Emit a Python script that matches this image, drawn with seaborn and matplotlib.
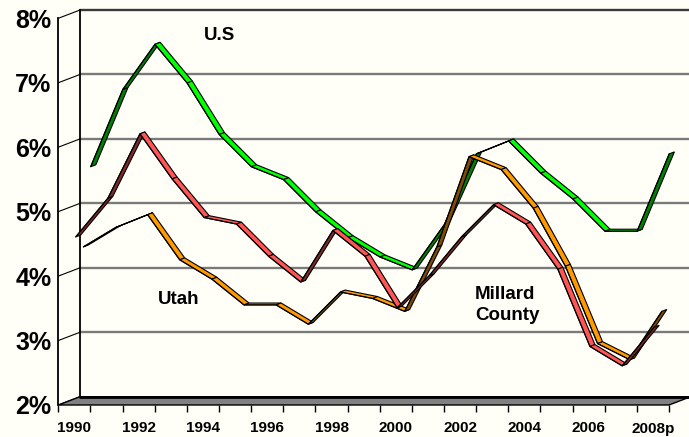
import numpy as np
import pandas as pd
import matplotlib.pyplot as plt
from matplotlib.patches import Polygon
import seaborn as sns

# unemployment rate (%), 1990 - 2008p
years = ['1990', '1991', '1992', '1993', '1994', '1995', '1996', '1997', '1998', '1999',
         '2000', '2001', '2002', '2003', '2004', '2005', '2006', '2007', '2008p']
us = [5.6, 6.8, 7.5, 6.9, 6.1, 5.6, 5.4, 4.9, 4.5, 4.2, 4.0, 4.7, 5.8, 6.0, 5.5, 5.1, 4.6, 4.6, 5.8]
utah = [4.4, 4.7, 4.9, 4.2, 3.9, 3.5, 3.5, 3.2, 3.7, 3.6, 3.4, 4.4, 5.8, 5.6, 5.0, 4.1, 2.9, 2.65, 3.4]
millard = [4.6, 5.2, 6.2, 5.5, 4.9, 4.8, 4.3, 3.9, 4.7, 4.3, 3.5, 4.0, 4.6, 5.1, 4.8, 4.1, 2.9, 2.6, 3.2]
y_ticks = [2, 3, 4, 5, 6, 7, 8]

# ---- style / 3d look settings ----
sns.set_theme(style='white')
plt.rcParams['font.family'] = ['Liberation Sans', 'DejaVu Sans']
plt.rcParams['font.weight'] = 'bold'
BG = '#fffff7'
PX_CAT, PX_PCT = 32.14, 64.45      # pixels per category / per percent on front plane
DEPTH_X, DEPTH_Y = 21.7, 8.3       # pixel offset of back wall
DX, DY = DEPTH_X / PX_CAT, DEPTH_Y / PX_PCT
EdgeLw = 0.8

fig = plt.figure(figsize=(6.89, 4.37), dpi=100, facecolor=BG)
ax = fig.add_axes([58.3 / 689, 32 / 437, 610.7 / 689, 386.7 / 437])
ax.set_facecolor('none')
ax.set_xlim(0, len(years))
ax.set_ylim(2, 8)
ax.grid(False)

# back wall gridlines + depth lines to the front axis
for v in y_ticks[1:]:
    col = '#3a3a3a' if v == 8 else '#7a7a7a'
    ax.plot([DX, len(years) + DX], [v + DY, v + DY], color=col, lw=1.7, clip_on=False, zorder=1)
for v in y_ticks:
    ax.plot([0, DX], [v, v + DY], color='black', lw=0.8, clip_on=False, zorder=1)
ax.plot([DX, DX], [2 + DY, 8 + DY], color='black', lw=1.3, clip_on=False, zorder=1)
# floor
n = len(years)
ax.add_patch(Polygon([(0, 2), (n, 2), (n + DX, 2 + DY), (DX, 2 + DY)], closed=True,
                     fc='#808080', ec='black', lw=1, clip_on=False, zorder=2))
ax.plot([DX, n + DX], [2 + DY, 2 + DY], color='black', lw=2, clip_on=False, zorder=2)


def ribbon(vals, d0, d1, top, side, z):
    x = np.arange(len(vals)) + 0.5
    v = np.asarray(vals, dtype=float)
    for i in range(len(v) - 1):
        rise = (v[i + 1] - v[i]) * PX_PCT / PX_CAT
        col = side if rise > DEPTH_Y / DEPTH_X else top
        pts = [(x[i] + d0 * DX, v[i] + d0 * DY), (x[i + 1] + d0 * DX, v[i + 1] + d0 * DY),
               (x[i + 1] + d1 * DX, v[i + 1] + d1 * DY), (x[i] + d1 * DX, v[i] + d1 * DY)]
        ax.add_patch(Polygon(pts, closed=True, fc=col, ec='black', lw=EdgeLw,
                             joinstyle='miter', clip_on=False, zorder=z))
    # front edge of the ribbon
    df = pd.DataFrame({'x': x + d0 * DX, 'y': v + d0 * DY})
    sns.lineplot(data=df, x='x', y='y', color='black', lw=EdgeLw, ax=ax,
                 legend=False, zorder=z + 0.1, clip_on=False)


# back to front
ribbon(us, 0.75, 0.99, '#00ff00', '#008000', 3)
ribbon(utah, 0.41, 0.64, '#ff9900', '#7f4c00', 4)
ribbon(millard, 0.06, 0.29, '#ff5555', '#7f2a2a', 5)

# axes
sns.despine(ax=ax, top=True, right=True, bottom=True, left=False)
ax.spines['left'].set_color('black')
ax.spines['left'].set_linewidth(1.3)
ax.set_xlabel('')
ax.set_ylabel('')
ax.set_xticks(np.arange(0, n + 1))
ax.set_xticklabels([])
centers = np.arange(n) + 0.5
ax.set_xticks(centers[::2], labels=years[::2], minor=True)
ax.tick_params(axis='x', which='major', bottom=True, direction='out', length=5, width=1, color='black')
ax.tick_params(axis='x', which='minor', bottom=True, length=0, pad=19.8, labelsize=11, labelcolor='black')
for lab in ax.get_xticklabels(minor=True):
    lab.set_verticalalignment('baseline')
ax.set_yticks(y_ticks, labels=[f'{v}%' for v in y_ticks])
ax.tick_params(axis='y', left=False, length=0, pad=5, labelsize=18, labelcolor='black')

# series labels
ax.text(5.0, 7.74, 'U.S', ha='center', va='center', fontsize=13.5, color='black')
ax.text(3.74, 3.63, 'Utah', ha='center', va='center', fontsize=13.5, color='black')
ax.text(12.96, 3.55, 'Millard\nCounty', ha='left', va='center', fontsize=13.5,
        linespacing=1.3, color='black')

fig.savefig('out.png', dpi=100, facecolor=BG)
